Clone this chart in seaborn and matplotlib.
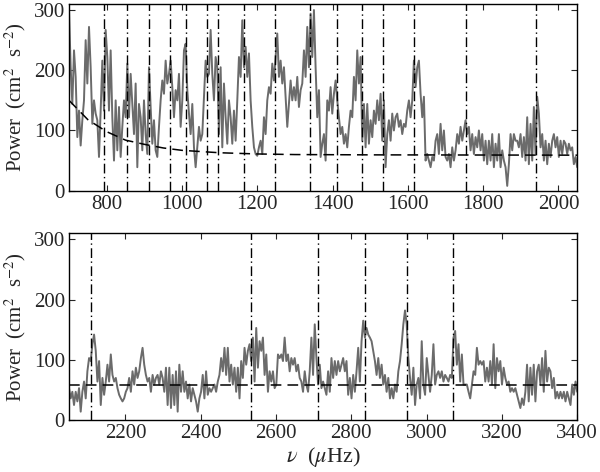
import numpy as np
import pandas as pd
import matplotlib
matplotlib.use('Agg')
import matplotlib.pyplot as plt
import seaborn as sns

top_power = [300, 205, 144, 233, 189, 89, 133, 75, 117, 150, 250, 178, 272, 205, 111, 150, 128, 117, 56, 133,
             216, 133, 267, 222, 133, 233, 122, 50, 150, 67, 139, 56, 106, 150, 122, 211, 122, 194, 144, 94,
             178, 39, 144, 122, 67, 150, 94, 61, 205, 139, 78, 117, 67, 56, 106, 150, 183, 161, 216, 178,
             194, 216, 172, 122, 167, 150, 194, 106, 150, 233, 244, 167, 128, 94, 144, 72, 39, 72, 106, 83,
             94, 156, 216, 189, 194, 267, 194, 150, 222, 205, 94, 205, 72, 178, 122, 78, 150, 122, 78, 133,
             83, 150, 222, 189, 283, 205, 239, 189, 228, 150, 106, 72, 61, 58, 72, 83, 61, 122, 94, 150,
             172, 161, 211, 183, 222, 261, 189, 216, 178, 205, 156, 106, 144, 183, 150, 172, 150, 189, 139, 167,
             178, 233, 189, 272, 205, 294, 222, 300, 205, 122, 167, 56, 78, 94, 50, 150, 133, 172, 128, 161,
             183, 150, 122, 94, 106, 78, 94, 72, 106, 133, 122, 189, 150, 233, 178, 222, 83, 144, 72, 144,
             78, 117, 89, 133, 111, 150, 117, 161, 83, 150, 39, 94, 117, 83, 128, 100, 122, 128, 106, 117,
             94, 111, 106, 133, 150, 122, 150, 216, 172, 205, 216, 161, 122, 156, 50, 61, 50, 39, 56, 50,
             83, 94, 61, 111, 67, 100, 56, 50, 61, 39, 72, 50, 67, 94, 78, 106, 83, 100, 117, 94,
             106, 67, 94, 61, 89, 72, 100, 67, 94, 50, 83, 44, 83, 50, 94, 39, 78, 50, 94, 39,
             67, 50, 39, 8, 44, 94, 67, 94, 83, 83, 72, 94, 56, 89, 50, 122, 44, 111, 50, 139,
             61, 156, 128, 72, 94, 50, 83, 44, 78, 56, 83, 94, 72, 89, 56, 83, 61, 83, 78, 61,
             78, 67, 72, 44, 56, 39]

bottom_power = [53, 36, 47, 25, 47, 31, 53, 14, 47, 64, 36, 81, 103, 98, 126, 142, 115, 64, 98, 25,
                70, 42, 64, 92, 64, 109, 75, 64, 70, 53, 42, 36, 31, 36, 47, 53, 70, 47, 81, 59,
                87, 70, 81, 103, 120, 92, 75, 64, 70, 47, 75, 59, 70, 75, 59, 81, 70, 47, 87, 25,
                87, 20, 75, 25, 81, 14, 92, 47, 81, 47, 64, 36, 59, 31, 53, 42, 31, 14, 36, 47,
                75, 36, 81, 42, 53, 47, 53, 59, 47, 64, 75, 103, 81, 120, 75, 120, 64, 92, 59, 87,
                47, 87, 36, 98, 70, 120, 92, 115, 126, 98, 137, 64, 153, 87, 131, 115, 137, 75, 109, 47,
                81, 64, 81, 53, 59, 109, 103, 109, 98, 137, 98, 109, 81, 103, 92, 103, 81, 92, 70,
                64, 47, 81, 59, 47, 81, 137, 75, 159, 103, 59, 92, 53, 64, 53, 42, 81, 47, 103, 70,
                98, 75, 98, 81, 92, 103, 81, 98, 42, 70, 36, 75, 47, 81, 120, 64, 131, 165, 137, 153,
                142, 137, 131, 115, 98, 75, 103, 70, 92, 59, 75, 47, 70, 36, 53, 36, 59, 47, 81, 98,
                126, 159, 182, 159, 103, 70, 42, 87, 25, 59, 70, 36, 131, 59, 42, 103, 75, 47, 75, 126,
                59, 75, 81, 70, 81, 64, 75, 70, 64, 75, 70, 137, 148, 92, 126, 64, 109, 59, 59, 59,
                47, 36, 59, 81, 75, 120, 92, 98, 92, 98, 64, 87, 64, 98, 59, 126, 53, 103, 81, 98,
                59, 87, 70, 59, 64, 47, 53, 47, 53, 42, 31, 20, 36, 25, 47, 92, 31, 87, 42, 92,
                31, 81, 92, 59, 103, 47, 115, 64, 87, 81, 53, 70, 36, 47, 36, 47, 36, 47, 31, 47,
                36, 25, 59, 42, 64, 47]

top_modes = [793, 854, 912, 969, 1010, 1066, 1095, 1166, 1246, 1341, 1411, 1479, 1534, 1616, 1754, 1941]
bottom_modes = [2108, 2534, 2712, 2836, 2947, 3071]

# background fit (dashed)
top_bg_freq = [700, 750, 800, 850, 900, 950, 1000, 1100, 1200, 1300, 1500, 2050]
top_bg_power = [150, 118, 98, 84, 77, 71, 67, 63, 61, 60, 59.5, 59]
bottom_bg_freq = [2050, 3400]
bottom_bg_power = [59, 59]

top_xticks = [800, 1000, 1200, 1400, 1600, 1800, 2000]
bottom_xticks = [2200, 2400, 2600, 2800, 3000, 3200, 3400]
yticks = [0, 100, 200, 300]

sns.set_style('ticks')
plt.rcParams['font.family'] = ['Liberation Serif', 'DejaVu Serif']
plt.rcParams['mathtext.fontset'] = 'stix'
plt.rcParams['font.size'] = 15

df_top = pd.DataFrame({'freq': np.linspace(700, 2050, len(top_power)), 'power': top_power})
df_bot = pd.DataFrame({'freq': np.linspace(2050, 3400, len(bottom_power)), 'power': bottom_power})

fig = plt.figure(figsize=(6, 4.72), dpi=100)
ax1 = fig.add_axes([0.115, 0.596, 0.847, 0.3955])
ax2 = fig.add_axes([0.115, 0.110, 0.847, 0.3955])

panels = [
    (ax1, df_top, top_modes, top_bg_freq, top_bg_power, (700, 2050), top_xticks),
    (ax2, df_bot, bottom_modes, bottom_bg_freq, bottom_bg_power, (2050, 3400), bottom_xticks),
]

for ax, df, modes, bgf, bgp, xlim, xt in panels:
    sns.lineplot(data=df, x='freq', y='power', ax=ax, color='#6b6b6b', linewidth=1.4)
    for m in modes:
        ax.axvline(m, color='black', linewidth=1.0, linestyle=(0, (7, 2.5, 1, 2.5)))
    ax.plot(bgf, bgp, color='black', linewidth=1.1, linestyle=(0, (7, 4)))
    ax.set_xlim(*xlim)
    ax.set_ylim(0, 310)
    ax.set_xticks(xt)
    ax.set_yticks(yticks)
    ax.tick_params(direction='in', top=True, right=True, length=4, width=0.8, labelsize=15, pad=3)
    for s in ax.spines.values():
        s.set_linewidth(1.0)
        s.set_color('black')
    ax.set_ylabel(r'Power  (cm$^{2}$  s$^{-2}$)', fontsize=15, labelpad=4)
    ax.set_xlabel('')

ax2.set_xlabel(r'$\nu$  ($\mu$Hz)', fontsize=16, labelpad=1)

fig.savefig('out.png', dpi=100)
